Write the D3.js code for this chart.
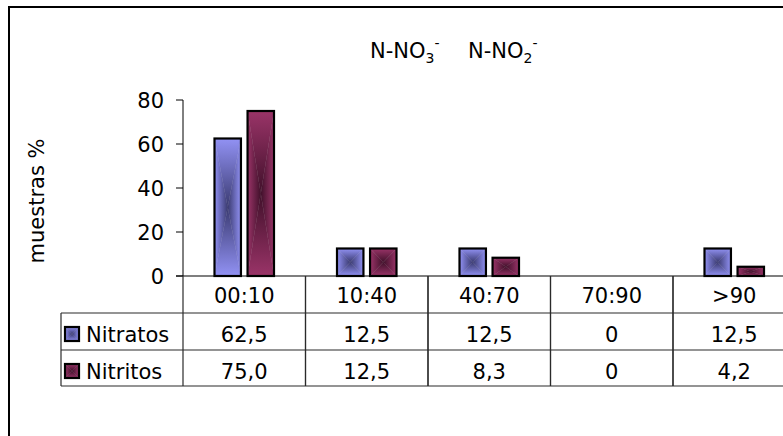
<!DOCTYPE html>
<html>
<head>
<meta charset="utf-8">
<script src="https://cdn.jsdelivr.net/npm/d3@7"></script>
<style>
  html, body { margin: 0; padding: 0; background: #fff; }
  svg { display: block; font-family: "DejaVu Sans", Verdana, sans-serif; }
</style>
</head>
<body>
<svg id="chart" width="783" height="436"></svg>
<script>
// Nitrate / nitrite concentration classes (percentage of samples)
const categories = ["00:10", "10:40", "40:70", "70:90", ">90"];
const seriesNames = ["Nitratos", "Nitritos"];
const nitratos = [62.5, 12.5, 12.5, 0, 12.5];
const nitritos = [75.0, 12.5, 8.3, 0, 4.2];
const nitratosLabels = ["62,5", "12,5", "12,5", "0", "12,5"];
const nitritosLabels = ["75,0", "12,5", "8,3", "0", "4,2"];
const yTicks = [0, 20, 40, 60, 80];

const seriesValues = [nitratos, nitritos];
const seriesLabels = [nitratosLabels, nitritosLabels];
const edgeColors = ["#9292f4", "#9a3468"];
const centerColors = ["#3a3a70", "#40102a"];

const svg = d3.select("#chart");
const FONT = 21;

// Outer frame
svg.append("path")
  .attr("d", "M9,440 L9,7 L800,7")
  .attr("fill", "none").attr("stroke", "#000").attr("stroke-width", 2);

// Scales
const plotLeft = 183, colW = 122.5;
const x = d3.scaleBand().domain(categories)
  .range([plotLeft, plotLeft + colW * categories.length]).padding(0);
const xs = d3.scaleBand().domain(seriesNames)
  .range([x.bandwidth() / 2 - 29.75, x.bandwidth() / 2 + 29.75]).paddingInner(0.2);
const y = d3.scaleLinear().domain([0, 80]).range([276, 100]);

// Box ("from centre") gradients, built from four triangles per bar
const defs = svg.append("defs");
seriesNames.forEach((s, i) => {
  const dirs = {
    L: [0, 0, 1, 0, edgeColors[i], centerColors[i]],
    R: [0, 0, 1, 0, centerColors[i], edgeColors[i]],
    T: [0, 0, 0, 1, edgeColors[i], centerColors[i]],
    B: [0, 0, 0, 1, centerColors[i], edgeColors[i]]
  };
  Object.entries(dirs).forEach(([k, d]) => {
    const g = defs.append("linearGradient").attr("id", `g${i}${k}`)
      .attr("x1", d[0]).attr("y1", d[1]).attr("x2", d[2]).attr("y2", d[3]);
    g.append("stop").attr("offset", 0).attr("stop-color", d[4]);
    g.append("stop").attr("offset", 1).attr("stop-color", d[5]);
  });
});

function boxGradient(g, x0, y0, x1, y1, si) {
  const cx = (x0 + x1) / 2, cy = (y0 + y1) / 2;
  const tris = [
    ["L", [[x0, y0], [cx, cy], [x0, y1]]],
    ["R", [[x1, y0], [cx, cy], [x1, y1]]],
    ["T", [[x0, y0], [x1, y0], [cx, cy]]],
    ["B", [[x0, y1], [x1, y1], [cx, cy]]]
  ];
  tris.forEach(([k, pts]) => {
    g.append("path")
      .attr("d", "M" + pts.map(p => p.join(",")).join("L") + "Z")
      .attr("fill", `url(#g${si}${k})`)
      .attr("stroke", `url(#g${si}${k})`).attr("stroke-width", 0.4);
  });
  g.append("rect").attr("x", x0).attr("y", y0)
    .attr("width", x1 - x0).attr("height", y1 - y0)
    .attr("fill", "none").attr("stroke", "#000").attr("stroke-width", 2.2);
}

// Bars
seriesNames.forEach((s, si) => {
  categories.forEach((c, ci) => {
    const v = seriesValues[si][ci];
    if (v <= 0) return;
    const bx = x(c) + xs(s);
    boxGradient(svg.append("g"), bx, y(v), bx + xs.bandwidth(), y(0), si);
  });
});

// Y axis
const yAxis = svg.append("g");
yAxis.append("line").attr("x1", plotLeft).attr("x2", plotLeft)
  .attr("y1", y(80)).attr("y2", y(0)).attr("stroke", "#000").attr("stroke-width", 1);
yTicks.forEach(t => {
  yAxis.append("line").attr("x1", plotLeft - 7).attr("x2", plotLeft)
    .attr("y1", y(t)).attr("y2", y(t)).attr("stroke", "#000");
  yAxis.append("text").attr("x", 164).attr("y", y(t) + 7.5)
    .attr("text-anchor", "end").attr("font-size", FONT).attr("fill", "#000").text(t);
});

// Y axis title
svg.append("text")
  .attr("transform", "translate(44,201) rotate(-90)")
  .attr("text-anchor", "middle").attr("font-size", FONT).attr("fill", "#000")
  .text("muestras %");

// Title with chemical formulas
const title = svg.append("text").attr("x", 370).attr("y", 58)
  .attr("font-size", FONT).attr("fill", "#000");
title.append("tspan").text("N-NO");
title.append("tspan").attr("font-size", 14).attr("dy", 5).text("3");
title.append("tspan").attr("font-size", 14).attr("dy", -15).text("-");
title.append("tspan").attr("x", 468).attr("dy", 10).text("N-NO");
title.append("tspan").attr("font-size", 14).attr("dy", 5).text("2");
title.append("tspan").attr("font-size", 14).attr("dy", -15).text("-");

// Data table
const rowTop = [276, 313, 350];
const rowBottom = 386;
const tableRight = 800;
const legendLeft = 61;
const tbl = svg.append("g");
const lineCol = "#2a2a2a";

// x axis / header top
tbl.append("line").attr("x1", plotLeft - 7).attr("x2", tableRight)
  .attr("y1", y(0)).attr("y2", y(0)).attr("stroke", "#000").attr("stroke-width", 1.2);
[313, 350, rowBottom].forEach(ry => {
  tbl.append("line").attr("x1", legendLeft).attr("x2", tableRight)
    .attr("y1", ry).attr("y2", ry).attr("stroke", lineCol).attr("stroke-width", 1.2);
});
// vertical separators
tbl.append("line").attr("x1", legendLeft).attr("x2", legendLeft)
  .attr("y1", 313).attr("y2", rowBottom).attr("stroke", lineCol).attr("stroke-width", 1.2);
categories.forEach(c => {
  [x(c), x(c) + x.bandwidth()].forEach(vx => {
    tbl.append("line").attr("x1", vx).attr("x2", vx)
      .attr("y1", y(0)).attr("y2", rowBottom).attr("stroke", lineCol).attr("stroke-width", 1.2);
  });
});

// header labels
categories.forEach(c => {
  tbl.append("text").attr("x", x(c) + x.bandwidth() / 2).attr("y", rowTop[0] + 27)
    .attr("text-anchor", "middle").attr("font-size", FONT).attr("fill", "#000").text(c);
});

// series rows
seriesNames.forEach((s, si) => {
  const top = rowTop[si + 1];
  boxGradient(tbl.append("g"), 65, top + 14, 79, top + 28, si);
  tbl.append("text").attr("x", 86).attr("y", top + 29)
    .attr("font-size", FONT).attr("fill", "#000").text(s);
  categories.forEach((c, ci) => {
    tbl.append("text").attr("x", x(c) + x.bandwidth() / 2).attr("y", top + 29)
      .attr("text-anchor", "middle").attr("font-size", FONT).attr("fill", "#000")
      .text(seriesLabels[si][ci]);
  });
});
</script>
</body>
</html>
